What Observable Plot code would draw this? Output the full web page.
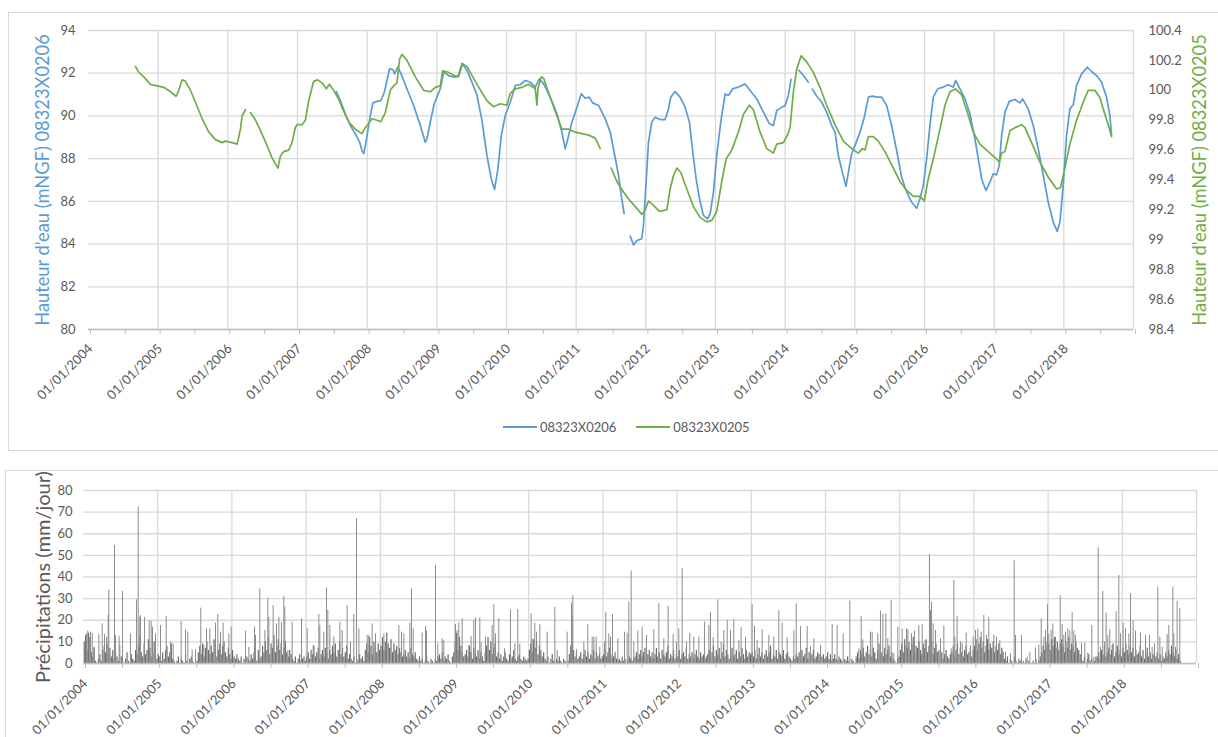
<!DOCTYPE html>
<html><head><meta charset="utf-8">
<script src="https://cdn.jsdelivr.net/npm/d3@7"></script>
<script src="https://cdn.jsdelivr.net/npm/@observablehq/plot@0.6"></script>
<style>
body{margin:0;background:#fff;width:1218px;height:737px;overflow:hidden;position:relative;font-family:Lato,sans-serif}
.panel{position:absolute;border:1px solid #d9d9d9;box-sizing:border-box}
#topChart{position:absolute;left:0;top:0}
#bottomChart{position:absolute;left:0;top:460px}
#legend{position:absolute;left:503px;top:419px;display:flex;align-items:center;font-size:13px;color:#595959;font-family:Lato,sans-serif}
.sw{display:inline-block;width:34px;height:2px;margin-right:3px}
</style></head><body>
<div class="panel" style="left:8px;top:12px;width:1220px;height:439px"></div>
<div class="panel" style="left:5px;top:470px;width:1220px;height:300px"></div>
<div id="topChart"></div>
<div id="bottomChart"></div>
<div id="legend"><span class="sw" style="background:#5B9BD5"></span><span>08323X0206</span><span style="width:20px"></span><span class="sw" style="background:#70AD47"></span><span>08323X0205</span></div>
<script>
// ---- tick labels ----
const labelYears = [2004,2005,2006,2007,2008,2009,2010,2011,2012,2013,2014,2015,2016,2017,2018];
const gridYears = [2005,2006,2007,2008,2009,2010,2011,2012,2013,2014,2015,2016,2017,2018,2019];
const leftTicks = [80,82,84,86,88,90,92,94];
const rightTicks = [98.4,98.6,98.8,99,99.2,99.4,99.6,99.8,100,100.2,100.4];
const rightTickLabels = ["98.4","98.6","98.8","99","99.2","99.4","99.6","99.8","100","100.2","100.4"];
const rainTicks = [0,10,20,30,40,50,60,70,80];
const leftTitle = "Hauteur d'eau (mNGF) 08323X0206";
const rightTitle = "Hauteur d'eau (mNGF) 08323X0205";
const rainTitle = "Précipitations (mm/jour)";

// ---- 08323X0206 (left axis), [decimal year, mNGF], null = gap ----
const blueSeries = [
[2007.557,91.14],[2007.615,90.72],[2007.686,90.10],[2007.758,89.55],[2007.83,89.16],[2007.892,88.77],[2007.926,88.38],[2007.95,88.23],[2007.988,88.85],[2008.021,89.55],[2008.055,90.18],[2008.083,90.61],[2008.141,90.68],[2008.198,90.72],[2008.246,91.11],[2008.284,91.66],[2008.322,92.21],[2008.37,92.17],[2008.394,91.97],[2008.437,92.28],[2008.476,92.05],[2008.571,91.27],[2008.667,90.49],[2008.763,89.55],[2008.834,88.77],[2008.858,88.93],[2008.906,89.71],[2008.963,90.57],[2009.05,91.27],[2009.098,92.05],[2009.169,91.89],[2009.241,91.82],[2009.313,91.86],[2009.37,92.44],[2009.432,92.13],[2009.504,91.58],[2009.576,90.96],[2009.648,89.79],[2009.719,88.15],[2009.782,87.05],[2009.829,86.56],[2009.877,87.52],[2009.925,89.08],[2009.982,90.02],[2010.054,90.64],[2010.126,91.43],[2010.197,91.46],[2010.269,91.66],[2010.341,91.58],[2010.413,91.35],[2010.471,91.74],[2010.533,91.50],[2010.628,90.88],[2010.724,90.10],[2010.795,89.24],[2010.843,88.46],[2010.881,88.93],[2010.939,89.71],[2011.011,90.41],[2011.073,91.03],[2011.13,90.83],[2011.188,90.88],[2011.236,90.61],[2011.322,90.49],[2011.417,89.86],[2011.489,89.24],[2011.545,88.30],[2011.608,87.21],[2011.655,86.12],[2011.689,85.42],
[2011.73,null],
[2011.775,84.37],[2011.823,83.96],[2011.871,84.17],[2011.942,84.25],[2011.966,84.87],[2012.004,86.90],[2012.038,88.77],[2012.086,89.71],[2012.134,89.94],[2012.205,89.83],[2012.277,89.83],[2012.325,90.33],[2012.358,90.88],[2012.421,91.14],[2012.492,90.88],[2012.564,90.41],[2012.626,89.71],[2012.674,88.30],[2012.722,87.05],[2012.77,86.12],[2012.827,85.34],[2012.884,85.18],[2012.923,85.42],[2012.971,86.43],[2013.018,88.15],[2013.076,89.71],[2013.138,91.03],[2013.186,90.96],[2013.248,91.27],[2013.329,91.35],[2013.425,91.50],[2013.497,91.19],[2013.592,90.80],[2013.688,90.18],[2013.774,89.63],[2013.831,89.55],[2013.879,90.25],[2013.951,90.41],[2013.999,90.49],[2014.046,90.96],[2014.084,91.71],
[2014.14,null],
[2014.199,92.13],[2014.261,91.89],[2014.333,91.58],
[2014.36,null],
[2014.39,91.25],[2014.452,90.93],[2014.524,90.64],[2014.596,90.18],[2014.668,89.55],[2014.716,89.24],[2014.763,88.15],[2014.821,87.37],[2014.873,86.71],[2014.916,87.52],[2014.955,88.23],[2015.012,88.69],[2015.074,89.24],[2015.136,89.94],[2015.194,90.88],[2015.251,90.93],[2015.313,90.88],[2015.385,90.88],[2015.457,90.49],[2015.528,89.55],[2015.6,88.38],[2015.672,87.13],[2015.744,86.43],[2015.815,85.96],[2015.887,85.68],[2015.935,86.12],[2015.983,86.74],[2016.031,87.99],[2016.078,89.55],[2016.126,90.88],[2016.189,91.27],[2016.27,91.35],[2016.341,91.46],[2016.413,91.35],[2016.447,91.66],[2016.509,91.27],[2016.581,90.80],[2016.652,90.10],[2016.724,88.93],[2016.772,87.99],[2016.82,87.05],[2016.882,86.51],[2016.939,86.90],[2016.987,87.29],[2017.035,87.24],[2017.073,87.68],[2017.107,89.08],[2017.155,90.18],[2017.217,90.68],[2017.298,90.77],[2017.37,90.61],[2017.408,90.80],[2017.489,90.33],[2017.561,89.55],[2017.633,88.46],[2017.705,87.21],[2017.776,85.96],[2017.848,85.03],[2017.905,84.59],[2017.944,85.03],[2017.991,86.74],[2018.039,89.08],[2018.087,90.33],[2018.135,90.52],[2018.183,91.43],[2018.255,91.97],[2018.336,92.28],[2018.398,92.08],[2018.47,91.89],[2018.542,91.58],[2018.613,90.88],[2018.661,90.02],[2018.685,89.08]
];

// ---- 08323X0205 (right axis), [decimal year, mNGF], null = gap ----
const greenSeries = [
[2004.674,100.16],[2004.722,100.12],[2004.794,100.09],[2004.889,100.04],[2004.985,100.03],[2005.081,100.02],[2005.177,99.99],[2005.258,99.96],[2005.296,100.00],[2005.344,100.07],[2005.392,100.06],[2005.464,100.00],[2005.535,99.92],[2005.631,99.81],[2005.727,99.72],[2005.823,99.67],[2005.918,99.65],[2005.966,99.66],[2006.062,99.65],[2006.133,99.64],[2006.157,99.69],[2006.181,99.74],[2006.205,99.83],[2006.253,99.87],
[2006.29,null],
[2006.325,99.85],[2006.387,99.81],[2006.459,99.74],[2006.563,99.63],[2006.634,99.55],[2006.706,99.49],[2006.72,99.48],[2006.754,99.56],[2006.802,99.59],[2006.873,99.60],[2006.921,99.65],[2006.969,99.75],[2006.993,99.77],[2007.065,99.77],[2007.113,99.80],[2007.161,99.93],[2007.232,100.06],[2007.29,100.07],[2007.352,100.05],[2007.414,100.01],[2007.457,100.04],[2007.519,100.00],[2007.591,99.94],[2007.653,99.87],[2007.734,99.79],[2007.83,99.74],[2007.926,99.71],[2007.973,99.75],[2008.007,99.77],[2008.069,99.81],[2008.141,99.80],[2008.198,99.79],[2008.26,99.85],[2008.332,100.00],[2008.38,100.03],[2008.428,100.05],[2008.466,100.21],[2008.5,100.24],[2008.571,100.20],[2008.691,100.09],[2008.81,100.00],[2008.906,99.99],[2008.977,100.02],[2009.05,100.03],[2009.083,100.13],[2009.169,100.12],[2009.241,100.10],[2009.303,100.09],[2009.361,100.18],[2009.432,100.16],[2009.576,100.04],[2009.719,99.93],[2009.815,99.89],[2009.911,99.91],[2010.006,99.90],[2010.054,99.98],[2010.126,100.01],[2010.221,100.02],[2010.317,100.04],[2010.413,100.01],[2010.437,99.90],[2010.451,100.01],[2010.499,100.09],[2010.533,100.08],[2010.628,99.95],[2010.724,99.83],[2010.795,99.74],[2010.891,99.74],[2010.987,99.72],[2011.082,99.71],[2011.178,99.70],[2011.274,99.68],[2011.345,99.61],
[2011.42,null],
[2011.503,99.48],[2011.584,99.39],[2011.679,99.32],[2011.775,99.26],[2011.871,99.21],[2011.942,99.17],[2011.99,99.20],[2012.038,99.26],[2012.11,99.23],[2012.196,99.19],[2012.301,99.20],[2012.349,99.34],[2012.397,99.43],[2012.445,99.48],[2012.502,99.45],[2012.588,99.34],[2012.684,99.22],[2012.779,99.15],[2012.875,99.12],[2012.947,99.13],[2013.018,99.19],[2013.09,99.39],[2013.152,99.54],[2013.233,99.60],[2013.329,99.72],[2013.401,99.84],[2013.487,99.90],[2013.544,99.87],[2013.64,99.72],[2013.736,99.61],[2013.831,99.58],[2013.879,99.64],[2013.975,99.65],[2014.032,99.70],[2014.07,99.75],[2014.118,99.99],[2014.165,100.14],[2014.228,100.23],[2014.309,100.19],[2014.405,100.12],[2014.5,100.02],[2014.596,99.90],[2014.715,99.77],[2014.835,99.66],[2014.955,99.61],[2015.05,99.58],[2015.108,99.61],[2015.146,99.60],[2015.194,99.69],[2015.265,99.69],[2015.337,99.66],[2015.433,99.59],[2015.552,99.48],[2015.648,99.39],[2015.744,99.33],[2015.839,99.29],[2015.935,99.29],[2015.997,99.26],[2016.055,99.41],[2016.126,99.54],[2016.222,99.74],[2016.294,99.90],[2016.365,99.99],[2016.447,100.01],[2016.533,99.97],[2016.58,99.90],[2016.605,99.87],[2016.7,99.72],[2016.796,99.64],[2016.916,99.59],[2017.035,99.54],[2017.073,99.52],[2017.107,99.58],[2017.155,99.59],[2017.226,99.73],[2017.298,99.75],[2017.394,99.77],[2017.442,99.75],[2017.537,99.65],[2017.657,99.52],[2017.776,99.42],[2017.896,99.34],[2017.953,99.35],[2018.015,99.48],[2018.087,99.64],[2018.183,99.80],[2018.278,99.92],[2018.35,100.00],[2018.446,100.00],[2018.518,99.95],[2018.589,99.84],[2018.637,99.77],[2018.685,99.69]
];

// ---- daily rainfall peaks, [decimal year, mm] ----
const rainPeaks = [
[2004.040,13.7],[2004.058,15],[2004.094,14.5],[2004.117,14],[2004.139,7.5],[2004.207,13.4],[2004.252,18.3],[2004.283,13.4],[2004.31,12],[2004.332,22.2],[2004.341,33.8],[2004.418,54.6],[2004.431,13],[2004.48,12.5],[2004.49,8.3],[2004.526,33.3],[2004.633,13.7],[2004.714,29.4],[2004.737,72.3],[2004.75,21.4],[2004.768,22.2],[2004.822,21.4],[2004.885,19.6],[2004.912,19.6],[2004.93,16.8],[2004.97,13.7],
[2005.038,17.6],[2005.114,21.7],[2005.173,9.9],[2005.208,9.1],[2005.316,19.4],[2005.375,15.6],[2005.406,14.5],[2005.464,6.3],[2005.509,6.3],[2005.581,25.6],[2005.622,8.3],[2005.658,16],[2005.703,16],[2005.779,18.7],[2005.81,22.7],[2005.846,14.5],[2005.882,18.7],[2005.959,13.7],[2005.99,16.8],
[2006.183,15],[2006.228,7.5],[2006.305,16.8],[2006.318,13],[2006.376,34.5],[2006.444,15.3],[2006.484,30.2],[2006.498,21.4],[2006.556,26.8],[2006.601,18.3],[2006.633,21.4],[2006.668,18.8],[2006.7,31],[2006.713,26],[2006.754,6],[2006.812,19.1],[2006.938,20.7],
[2007.014,16],[2007.095,8.3],[2007.172,22.7],[2007.185,17.6],[2007.239,14.5],[2007.275,35],[2007.293,24.5],[2007.32,17.6],[2007.374,12.2],[2007.455,19.1],[2007.486,15.3],[2007.553,26.8],[2007.598,9.9],[2007.643,22.7],[2007.679,66.9],[2007.711,16],[2007.823,13],[2007.845,13],[2007.89,18.3],[2007.935,13.7],
[2008.048,13.7],[2008.25,17.6],[2008.286,14.5],[2008.317,13.7],[2008.398,18.7],[2008.42,34.5],[2008.443,16],[2008.564,14],[2008.609,17.1],[2008.622,15],[2008.744,45.3],[2008.775,9.1],[2008.834,11.4],[2008.856,10.6],
[2009.013,18],[2009.036,15.3],[2009.058,18.7],[2009.103,20.7],[2009.193,8.3],[2009.224,12.5],[2009.26,19.9],[2009.283,21.1],[2009.341,21.1],[2009.359,9.4],[2009.418,12.2],[2009.507,17.6],[2009.53,27.3],[2009.552,13.7],[2009.597,20.7],[2009.674,6.8],[2009.754,24.8],[2009.813,9.1],[2009.853,25],[2009.88,8.8],
[2010.033,23],[2010.046,11.4],[2010.082,18.7],[2010.105,14.5],[2010.15,18],[2010.249,14.5],[2010.352,26],[2010.383,6],[2010.518,14.5],[2010.577,27.9],[2010.586,22.2],[2010.595,31.4],[2010.644,6.3],[2010.743,9.9],[2010.797,18],[2010.855,12.2],[2010.878,12.2],[2010.909,12.2],[2010.958,7.5],
[2011.021,9.9],[2011.039,23.7],[2011.08,13.7],[2011.102,12.2],[2011.129,22.7],[2011.201,11.4],[2011.291,14.5],[2011.327,14],[2011.349,28.4],[2011.381,42.7],[2011.417,9.9],[2011.471,15],[2011.529,16.8],[2011.587,13],[2011.686,15.6],[2011.754,27.6],[2011.821,11.4],[2011.879,26.5],[2011.947,13.4],[2011.992,9.9],
[2012.023,16],[2012.068,43.8],[2012.126,9.9],[2012.171,14],[2012.225,12.2],[2012.293,12.2],[2012.369,19.1],[2012.428,17.6],[2012.45,23.7],[2012.486,11.9],[2012.549,29.4],[2012.594,9.9],[2012.63,15.3],[2012.675,19.9],[2012.72,15.3],[2012.764,20.2],[2012.832,10.6],[2012.863,16.5],[2012.922,11.9],
[2013.011,27.3],[2013.043,17.1],[2013.079,10.6],[2013.146,15.6],[2013.236,13],[2013.303,12.2],[2013.371,24.5],[2013.416,18.7],[2013.483,11.9],[2013.573,15],[2013.605,27.6],[2013.663,17.1],[2013.753,17.1],[2013.798,7.9],[2013.843,11.4],[2013.933,8.3],
[2014.09,18],[2014.157,17.6],[2014.238,13.7],[2014.328,28.8],[2014.449,6.8],[2014.481,21.7],[2014.503,10.9],[2014.561,4.8],[2014.606,14.5],[2014.629,14.5],[2014.705,13.7],[2014.741,24.2],[2014.773,22.7],[2014.813,23],[2014.84,11.4],[2014.885,29.1],[2014.921,4.5],[2014.975,16.8],
[2015.033,16],[2015.092,16],[2015.11,15.6],[2015.159,13.7],[2015.199,15],[2015.258,17.6],[2015.303,18],[2015.343,10.6],[2015.401,50.3],[2015.415,24.5],[2015.428,28.4],[2015.451,18.3],[2015.482,15.3],[2015.55,11.4],[2015.595,17.3],[2015.694,6.8],[2015.73,38.4],[2015.743,12.2],[2015.774,21.7],[2015.819,9.9],[2015.842,9.4],[2015.896,14],[2015.954,8.3],[2015.99,12.2],
[2016.021,15.3],[2016.053,16],[2016.098,14.5],[2016.134,22.2],[2016.17,13],[2016.201,21.4],[2016.269,13],[2016.305,12.2],[2016.349,10.6],[2016.381,6],[2016.426,5.2],[2016.493,4.5],[2016.543,47.6],[2016.561,13],[2016.641,13],[2016.718,2.9],[2016.754,5.2],[2016.83,7.2],[2016.875,8.3],[2016.907,20.7],[2016.943,12.2],[2016.965,15.3],[2016.992,27.3],
[2017.01,13.7],[2017.041,15.3],[2017.064,18.3],[2017.1,12.2],[2017.131,7.5],[2017.163,31.4],[2017.19,18],[2017.212,13],[2017.235,14.5],[2017.266,16],[2017.293,15],[2017.324,23.7],[2017.347,15],[2017.369,13],[2017.45,9.4],[2017.495,9.4],[2017.535,4.8],[2017.589,17.6],[2017.616,2.9],[2017.675,53.5],[2017.706,7.5],[2017.737,33.3],[2017.76,9.9],[2017.782,23.3],[2017.805,13],[2017.832,15.6],[2017.863,8.3],[2017.917,24],[2017.953,40.7],[2017.975,13.7],
[2018.011,18.7],[2018.043,16],[2018.088,13.7],[2018.111,32.2],[2018.146,19.9],[2018.178,15],[2018.245,14],[2018.313,13],[2018.367,13],[2018.402,7.5],[2018.434,9.1],[2018.479,35.3],[2018.506,12.2],[2018.537,7.5],[2018.604,13.4],[2018.627,17.6],[2018.681,35.3],[2018.694,13.7],[2018.717,7.5],[2018.739,28.8],[2018.775,25.3]
];

// ---- weekly background of small daily rainfall (mm), one value per week ----
const w2004 = [10,13,6,14,12,5,3,7,1,0,2,4,1,6,8,5,9,4,7,3,6,2,5,3,1,0,3,1,0,2,5,1,0,4,2,1,6,4,8,12,5,3,9,4,6,11,7,3,5,10,4,2];
const w2005 = [4,3,1,5,2,6,8,3,5,9,2,1,0,1,3,0,2,1,0,4,1,0,2,3,1,0,0,1,5,8,4,9,3,7,10,6,4,8,5,11,7,3,6,9,4,8,10,5,3,7,4,2];
const w2006 = [6,3,2,4,2,1,3,0,2,1,3,2,1,4,2,5,3,1,6,2,3,8,5,10,6,12,4,9,7,13,5,8,11,6,9,4,7,10,5,3,6,4,2,1,3,0,2,4,1,2,3,1];
const w2007 = [3,5,2,6,4,8,3,5,7,2,4,6,3,7,5,2,6,4,8,5,9,3,6,10,4,7,3,5,8,2,4,2,1,3,0,2,1,4,2,3,1,6,9,5,12,8,4,10,7,5,9,6];
const w2008 = [8,12,6,10,14,9,7,11,5,9,6,8,4,7,5,3,4,6,3,5,2,7,4,3,5,2,1,3,1,2,0,1,3,1,0,2,1,0,2,1,3,4,2,5,1,3,2,4,1,0,3,5];
const w2009 = [10,14,6,12,8,5,3,4,6,3,8,5,2,7,4,3,6,2,5,3,1,5,8,12,6,10,4,7,9,3,5,2,4,1,3,5,2,1,4,2,3,6,2,1,3,4,2,1,3,2,1,2];
const w2010 = [6,9,5,11,7,10,4,8,6,3,5,2,1,3,0,2,4,1,0,2,1,3,1,0,2,1,0,1,4,8,10,6,3,5,2,3,5,2,4,6,3,5,2,4,3,6,2,5,3,4,2,3];
const w2011 = [4,6,3,5,7,2,4,3,5,2,1,2,1,3,1,2,0,1,3,2,1,2,3,5,2,4,6,3,5,7,2,4,6,3,5,2,4,7,3,5,2,6,4,3,5,8,2,4,3,6,2,4];
const w2012 = [3,6,2,4,5,3,7,2,4,3,5,2,4,6,3,2,5,3,4,2,3,4,6,2,5,8,3,6,4,7,2,5,9,3,6,4,2,5,7,3,4,6,2,5,3,7,4,2,6,3,5,4];
const w2013 = [5,3,6,2,4,7,3,5,2,4,6,3,5,8,2,4,3,6,2,5,4,3,6,2,4,5,3,2,1,3,2,4,3,5,2,6,3,4,7,2,5,3,4,6,2,3,5,4,2,3,4,2];
const w2014 = [3,5,2,4,1,2,4,2,1,3,2,1,0,2,1,3,1,0,2,1,0,3,5,2,6,4,7,3,5,8,4,6,3,7,5,2,6,9,4,5,3,7,4,6,8,3,5,2,1,0,2,3];
const w2015 = [6,9,5,11,8,7,10,6,9,12,5,8,7,10,6,4,9,7,11,5,8,6,10,4,7,9,5,6,3,5,2,4,6,3,2,4,5,8,3,6,9,4,7,5,3,6,8,4,5,7,3,6];
const w2016 = [8,11,6,9,12,7,10,5,8,11,6,9,7,10,5,8,6,9,4,7,5,2,1,3,0,2,1,0,3,1,0,2,1,0,1,0,2,0,1,0,0,1,0,2,0,1,3,5,8,6,10,7];
const w2017 = [9,6,11,8,12,7,10,6,9,11,8,5,10,7,12,6,9,8,5,10,7,6,4,2,1,3,0,2,4,1,2,0,1,3,3,5,2,6,4,8,3,5,7,4,6,9,3,5,8,4,6,3];
const w2018 = [7,5,9,6,4,8,5,7,3,6,4,5,8,3,6,2,4,7,3,5,2,4,6,3,5,2,4,1,3,2,5,3,6,4,8,5,3,6,2,4,1];

const weekly = [[2004,w2004],[2005,w2005],[2006,w2006],[2007,w2007],[2008,w2008],[2009,w2009],[2010,w2010],[2011,w2011],[2012,w2012],[2013,w2013],[2014,w2014],[2015,w2015],[2016,w2016],[2017,w2017],[2018,w2018]]
  .flatMap(([yr, vals]) => vals.map((v, i) => [yr + (i + 0.5) / 52, v])).filter(d => d[1] > 0);

const toLeft = v => 80 + (v - 98.4) * 7;
const halfYears = d3.range(2004, 2019.01, 0.5);
const xFmt = d => (Number.isInteger(d) && labelYears.includes(d)) ? `01/01/${d}` : "";
const GRID = "#d9d9d9", AXIS = "#bfbfbf", TXT = "#595959";
const font = "Lato, 'Open Sans', sans-serif";

const topPlot = Plot.plot({
  width: 1218, height: 450,
  marginLeft: 88, marginRight: 85, marginTop: 30, marginBottom: 121,
  style: {fontFamily: font, fontSize: "13px", color: TXT, background: "transparent", overflow: "visible"},
  x: {domain: [2004, 2019]},
  y: {domain: [80, 94]},
  marks: [
    Plot.gridX(gridYears, {stroke: GRID, strokeOpacity: 1, strokeWidth: 1.3}),
    Plot.gridY(leftTicks, {stroke: GRID, strokeOpacity: 1, strokeWidth: 1.3}),
    Plot.ruleY([80], {stroke: AXIS, strokeWidth: 1.3}),
    Plot.axisX(halfYears, {tickFormat: xFmt, tickSize: 5, tickPadding: 12, tickRotate: -45, stroke: AXIS, fill: TXT, label: null, dx: 2}),
    Plot.axisY(leftTicks, {tickSize: 0, tickPadding: 13, fill: TXT, label: null}),
    Plot.axisY(rightTicks.map(toLeft), {anchor: "right", tickSize: 0, tickPadding: 15, fill: TXT, label: null,
      tickFormat: d => rightTickLabels[Math.round((d - 80) / 1.4)]}),
    Plot.line(blueSeries, {x: d => d[0], y: d => d[1], stroke: "#5B9BD5", strokeWidth: 1.7}),
    Plot.line(greenSeries, {x: d => d[0], y: d => d[1] == null ? null : toLeft(d[1]), stroke: "#70AD47", strokeWidth: 1.7}),
    Plot.text([leftTitle], {text: d => d, frameAnchor: "left", dx: -45, rotate: -90, fill: "#5B9BD5", fontSize: 18.3, textAnchor: "middle"}),
    Plot.text([rightTitle], {text: d => d, frameAnchor: "right", dx: 67, rotate: -90, fill: "#70AD47", fontSize: 18.3, textAnchor: "middle"})
  ]
});
document.getElementById("topChart").append(topPlot);

const bottomPlot = Plot.plot({
  width: 1218, height: 277,
  marginLeft: 83, marginRight: 22, marginTop: 30, marginBottom: 74,
  style: {fontFamily: font, fontSize: "13px", color: TXT, background: "transparent", overflow: "visible"},
  x: {domain: [2004, 2019]},
  y: {domain: [0, 80]},
  marks: [
    Plot.gridX(gridYears, {stroke: GRID, strokeOpacity: 1, strokeWidth: 1.3}),
    Plot.gridY(rainTicks, {stroke: GRID, strokeOpacity: 1, strokeWidth: 1.3}),
    Plot.ruleX(weekly, {x: d => d[0], y1: 0, y2: d => d[1], stroke: "#6c6c6c", strokeWidth: 1.2}),
    Plot.ruleX(rainPeaks, {x: d => d[0], y1: 0, y2: d => d[1], stroke: "#8c8c8c", strokeWidth: 1}),
    Plot.ruleY([0], {stroke: AXIS, strokeWidth: 1.3}),
    Plot.axisX(halfYears, {tickFormat: xFmt, tickSize: 5, tickPadding: 13, tickRotate: -45, stroke: AXIS, fill: TXT, label: null, dx: 2}),
    Plot.axisY(rainTicks, {tickSize: 0, tickPadding: 11, fill: TXT, label: null}),
    Plot.text([rainTitle], {text: d => d, frameAnchor: "left", dx: -40, rotate: -90, fill: TXT, fontSize: 20, textAnchor: "middle"})
  ]
});
document.getElementById("bottomChart").append(bottomPlot);
</script>
</body></html>
